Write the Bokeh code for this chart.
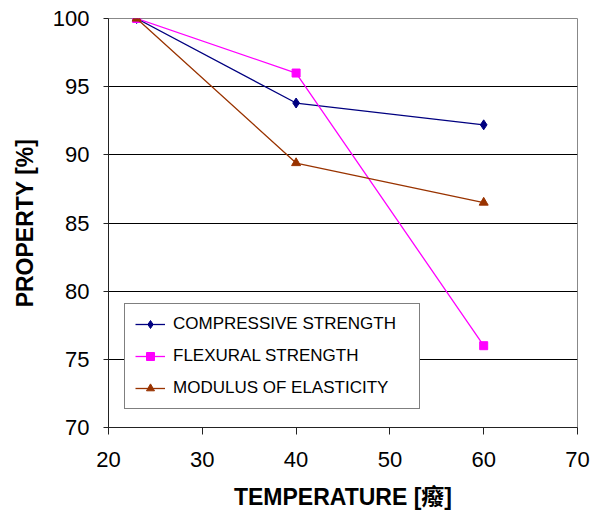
from bokeh.plotting import figure
from bokeh.models import Range1d, FixedTicker, Legend
from bokeh.embed import file_html
from bokeh.resources import INLINE

temperature = [23, 40, 60]
compressive = [100, 93.8, 92.2]
flexural = [100, 96.0, 76.0]
modulus = [100, 89.4, 86.5]
x_ticks = [20, 30, 40, 50, 60, 70]
y_ticks = [70, 75, 80, 85, 90, 95, 100]

FONT = "Liberation Sans, Arial, Noto Sans CJK SC"

p = figure(width=591, height=518, output_backend="svg", toolbar_location=None,
           x_range=Range1d(20, 70), y_range=Range1d(70, 100))
p.min_border_left = 108
p.min_border_right = 14
p.min_border_top = 18
p.min_border_bottom = 91
p.background_fill_color = "white"
p.border_fill_color = "white"
p.outline_line_color = "#888888"
p.outline_line_width = 1

p.xaxis.ticker = FixedTicker(ticks=x_ticks)
p.yaxis.ticker = FixedTicker(ticks=y_ticks)
p.xgrid.visible = False
p.ygrid.ticker = FixedTicker(ticks=[75, 80, 85, 90, 95])
p.ygrid.grid_line_color = "black"
p.ygrid.grid_line_width = 1

for ax in (p.xaxis[0], p.yaxis[0]):
    ax.minor_tick_line_color = None
    ax.major_tick_in = 0
    ax.major_label_text_font = FONT
    ax.major_label_text_font_size = "22px"
    ax.major_label_text_color = "black"
    ax.axis_label_text_font = FONT
    ax.axis_label_text_font_style = "bold"
    ax.axis_label_text_font_size = "23px"
    ax.axis_label_text_color = "black"
    ax.axis_line_color = "#222222"
    ax.major_tick_line_color = "#222222"

p.xaxis.major_tick_out = 7
p.yaxis.major_tick_out = 5
p.xaxis.major_label_standoff = 17
p.yaxis.major_label_standoff = 14
p.xaxis.axis_label = "TEMPERATURE [癈]"
p.yaxis.axis_label = "PROPERTY [%]"
p.xaxis.axis_label_standoff = 14
p.yaxis.axis_label_standoff = 12

l1 = p.line(temperature, compressive, line_color="#000080", line_width=1.3)
s1 = p.scatter(temperature, compressive, marker="diamond", size=10,
               fill_color="#000080", line_color="#000080")
l2 = p.line(temperature, flexural, line_color="#FF00FF", line_width=1.3)
s2 = p.scatter(temperature, flexural, marker="square", size=8,
               fill_color="#FF00FF", line_color="#FF00FF")
l3 = p.line(temperature, modulus, line_color="#993300", line_width=1.3)
s3 = p.scatter(temperature, modulus, marker="triangle", size=9,
               fill_color="#993300", line_color="#993300")

legend = Legend(items=[
    ("COMPRESSIVE STRENGTH", [l1, s1]),
    ("FLEXURAL STRENGTH", [l2, s2]),
    ("MODULUS OF ELASTICITY", [l3, s3]),
], location=(16, 18))
legend.border_line_color = "black"
legend.border_line_width = 1
legend.background_fill_color = "white"
legend.background_fill_alpha = 1
legend.label_text_font = FONT
legend.label_text_font_size = "17px"
legend.label_text_color = "black"
legend.padding = 10
legend.spacing = 12
legend.label_height = 20
legend.glyph_height = 20
legend.glyph_width = 30
legend.label_standoff = 8
legend.label_width = 236
legend.margin = 0
p.add_layout(legend)

open("out.html", "w").write(file_html(p, INLINE))
